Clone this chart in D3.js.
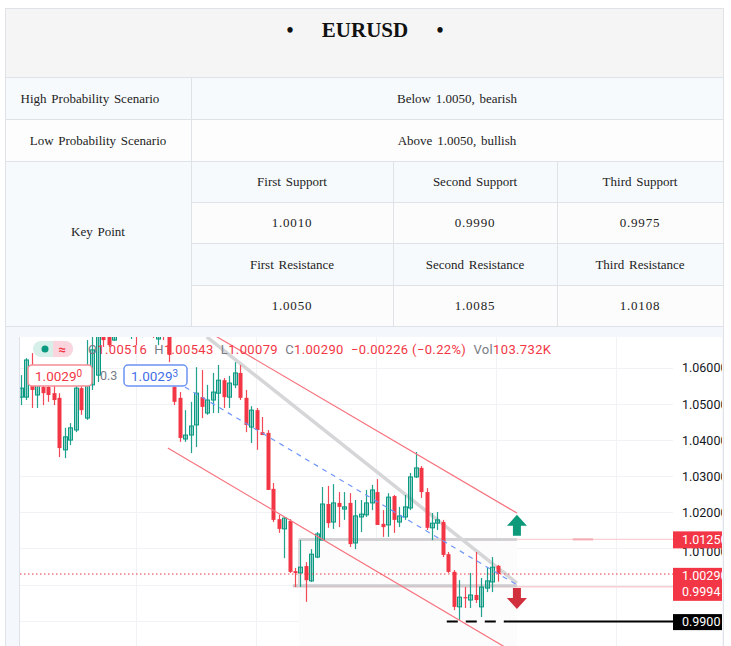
<!DOCTYPE html>
<html><head><meta charset="utf-8">
<script src="https://cdn.jsdelivr.net/npm/d3@7"></script>
<style>html,body{margin:0;padding:0;background:#fff;overflow:hidden}</style>
</head><body><svg id="c" width="731" height="646"></svg>
<script>
// ---------- table data ----------
const titleText = "EURUSD";
const scenarioLabels = ["High Probability Scenario", "Low Probability Scenario"];
const scenarioTexts = ["Below 1.0050, bearish", "Above 1.0050, bullish"];
const keyLabel = "Key Point";
const supportHeaders = ["First Support", "Second Support", "Third Support"];
const supportValues = ["1.0010", "0.9990", "0.9975"];
const resistanceHeaders = ["First Resistance", "Second Resistance", "Third Resistance"];
const resistanceValues = ["1.0050", "1.0085", "1.0108"];

// ---------- chart data (daily candles, index 0..87) ----------
const opens = [1.0519,1.0519,1.0594,1.0525,1.0547,1.0547,1.0530,1.0517,1.0373,1.0400,
1.0428,1.0544,1.0461,1.0553,1.0580,1.0733,1.0719,1.0677,1.0733,1.0770,
1.0710,1.0740,1.0690,1.0730,1.0720,1.0680,1.0730,1.0705,1.0547,1.0517,
1.0403,1.0414,1.0442,1.0519,1.0475,1.0511,1.0530,1.0566,1.0519,1.0553,
1.0586,1.0517,1.0436,1.0483,1.0422,1.0420,1.0265,1.0181,1.0154,1.0176,
1.0037,1.0032,1.0051,1.0010,1.0076,1.0123,1.0223,1.0173,1.0226,1.0209,
1.0226,1.0115,1.0187,1.0193,1.0226,1.0256,1.0168,1.0165,1.0245,1.0173,
1.0187,1.0212,1.0298,1.0323,1.0256,1.0157,1.0170,1.0173,1.0084,1.0035,
0.9938,0.9965,0.9957,0.9971,0.9938,0.9990,1.0007,1.00516];
const highs = [1.0580,1.0627,1.0641,1.0580,1.0566,1.0558,1.0553,1.0530,1.0434,1.0447,
1.0580,1.0553,1.0677,1.0691,1.0733,1.0760,1.0747,1.0747,1.0790,1.0800,
1.0760,1.0770,1.0750,1.0780,1.0740,1.0745,1.0760,1.0720,1.0553,1.0533,
1.0483,1.0506,1.0602,1.0594,1.0553,1.0586,1.0608,1.0572,1.0578,1.0616,
1.0608,1.0539,1.0494,1.0489,1.0464,1.0428,1.0281,1.0193,1.0187,1.0181,
1.0046,1.0123,1.0062,1.0098,1.0145,1.0270,1.0273,1.0278,1.0256,1.0256,
1.0253,1.0234,1.0234,1.0262,1.0276,1.0292,1.0206,1.0253,1.0248,1.0215,
1.0248,1.0309,1.0367,1.0328,1.0267,1.0198,1.0201,1.0179,1.0090,1.0040,
1.0012,0.9993,1.0032,1.0090,1.0018,1.0048,1.0076,1.00543];
const lows = [1.0497,1.0511,1.0489,1.0489,1.0497,1.0506,1.0497,1.0353,1.0350,1.0386,
1.0422,1.0470,1.0456,1.0539,1.0561,1.0658,1.0658,1.0675,1.0700,1.0691,
1.0680,1.0663,1.0685,1.0700,1.0683,1.0663,1.0677,1.0616,1.0497,1.0395,
1.0395,1.0364,1.0381,1.0461,1.0470,1.0475,1.0475,1.0489,1.0489,1.0544,
1.0511,1.0422,1.0392,1.0373,1.0414,1.0262,1.0173,1.0143,1.0073,1.0032,
0.9993,0.9993,0.9952,1.0007,1.0073,1.0123,1.0157,1.0154,1.0159,1.0179,
1.0104,1.0098,1.0145,1.0187,1.0206,1.0165,1.0132,1.0132,1.0143,1.0159,
1.0179,1.0206,1.0295,1.0240,1.0151,1.0123,1.0151,1.0076,1.0032,0.9929,
0.9902,0.9935,0.9935,0.9949,0.9910,0.9979,0.9979,1.00079];
const closes = [1.0544,1.0622,1.0539,1.0553,1.0530,1.0525,1.0511,1.0378,1.0409,1.0434,
1.0544,1.0483,1.0594,1.0650,1.0705,1.0677,1.0663,1.0733,1.0770,1.0710,
1.0740,1.0690,1.0730,1.0720,1.0700,1.0730,1.0700,1.0636,1.0506,1.0406,
1.0414,1.0439,1.0530,1.0492,1.0511,1.0533,1.0566,1.0519,1.0558,1.0586,
1.0517,1.0442,1.0483,1.0428,1.0414,1.0262,1.0179,1.0154,1.0184,1.0035,
1.0032,1.0048,1.0012,1.0084,1.0140,1.0223,1.0170,1.0226,1.0215,1.0215,
1.0112,1.0190,1.0195,1.0226,1.0262,1.0165,1.0159,1.0242,1.0179,1.0190,
1.0215,1.0298,1.0323,1.0256,1.0157,1.0170,1.0179,1.0082,1.0035,0.9938,
0.9965,0.9963,0.9971,0.9957,0.9993,1.0010,1.0048,1.00290];

const priceTicks = [0.99, 1.00, 1.01, 1.02, 1.03, 1.04, 1.05, 1.06];
const axisLabelTicks = [1.01, 1.02, 1.03, 1.04, 1.05, 1.06];
const timeGrid = [21, 42.9, 64.8, 86.7, 108.6];

// drawings: [index, price] endpoints
const upperChannel = [[26.8, 1.0766], [90.5, 1.0198]];
const lowerChannel = [[26.8, 1.0378], [90.5, 0.9807]];
const grayTrend = [[33.9, 1.0686], [90.5, 1.0004]];
const blueTrend = [[29.9, 1.0547], [90.5, 0.9999]];
const boxLeft = 50.7, boxLeftLow = 49.6, drawEnd = 90.5;
const levelHigh = 1.0125, levelLow = 0.9994, levelTarget = 0.9900;
const lastPrice = 1.0029;
const upArrow = {i: 90.5, price: 1.0193};
const downArrow = {i: 90.5, price: 0.9932};

const legendParts = [["O","#787b86"],["1.00516","#f23645"],["  H","#787b86"],["1.00543","#f23645"],
  ["  L","#787b86"],["1.00079","#f23645"],["  C","#787b86"],["1.00290","#f23645"],
  ["  −0.00226 (−0.22%)","#f23645"],["  Vol","#787b86"],["103.732K","#f23645"]];

// ---------- drawing ----------
const svg = d3.select("#c");
const serif = "'Liberation Serif','Times New Roman',serif";
const sans = "Roboto,'Liberation Sans',Arial,sans-serif";
const border = "#dfe2e7";

// Table backgrounds
const tX0 = 5, tX1 = 723, col1 = 191, colB = 393, colC = 557;
const rows = [8, 77, 119, 161, 202, 243, 285, 326, 646];
svg.append("rect").attr("x",tX0).attr("y",rows[0]).attr("width",tX1-tX0).attr("height",rows[1]-rows[0]).attr("fill","#f5f5f5");
svg.append("rect").attr("x",tX0).attr("y",rows[1]).attr("width",tX1-tX0).attr("height",rows[2]-rows[1]).attr("fill","#f7fafd");
svg.append("rect").attr("x",tX0).attr("y",rows[2]).attr("width",tX1-tX0).attr("height",rows[3]-rows[2]).attr("fill","#fdfdfd");
svg.append("rect").attr("x",tX0).attr("y",rows[3]).attr("width",col1-tX0).attr("height",rows[7]-rows[3]).attr("fill","#f7fafd");
[3,5].forEach(r => svg.append("rect").attr("x",col1).attr("y",rows[r]).attr("width",tX1-col1).attr("height",rows[r+1]-rows[r]).attr("fill","#f7fafd"));
[4,6].forEach(r => svg.append("rect").attr("x",col1).attr("y",rows[r]).attr("width",tX1-col1).attr("height",rows[r+1]-rows[r]).attr("fill","#fcfcfc"));
svg.append("rect").attr("x",tX0).attr("y",rows[7]).attr("width",tX1-tX0).attr("height",rows[8]-rows[7]).attr("fill","#f4f7fc");

// Table lines
const lines = svg.append("g").attr("stroke",border).attr("stroke-width",1).attr("shape-rendering","crispEdges");
rows.slice(0,8).forEach((y,k) => {
  let x0 = tX0;
  if (k === 4 || k === 5 || k === 6) x0 = col1;
  lines.append("line").attr("x1",x0).attr("x2",tX1).attr("y1",y+0.5).attr("y2",y+0.5);
});
lines.append("line").attr("x1",tX0+0.5).attr("x2",tX0+0.5).attr("y1",rows[0]).attr("y2",646);
lines.append("line").attr("x1",tX1+0.5).attr("x2",tX1+0.5).attr("y1",rows[0]).attr("y2",646);
lines.append("line").attr("x1",col1+0.5).attr("x2",col1+0.5).attr("y1",rows[1]).attr("y2",rows[7]);
[colB, colC].forEach(x => lines.append("line").attr("x1",x+0.5).attr("x2",x+0.5).attr("y1",rows[3]).attr("y2",rows[7]));

// Table texts
const tt = (x,y,s,opt={}) => svg.append("text").attr("x",x).attr("y",y).attr("text-anchor","middle")
  .attr("font-family",serif).attr("font-size",opt.size||13).attr("font-weight",opt.bold?"bold":"normal")
  .attr("fill",opt.fill||"#222").attr("letter-spacing",opt.ls||0).attr("word-spacing",opt.ws||1.5).text(s);
tt(290, 37, "•", {size:20, bold:true, fill:"#111"});
tt(365, 37, titleText, {size:21, bold:true, fill:"#111"});
tt(440, 37, "•", {size:20, bold:true, fill:"#111"});
const scenX = [90, 98];
scenarioLabels.forEach((s,k) => tt(scenX[k], (rows[1+k]+rows[2+k])/2+4.5, s));
scenarioTexts.forEach((s,k) => tt((col1+tX1)/2, (rows[1+k]+rows[2+k])/2+4.5, s));
tt((tX0+col1)/2, 235.5, keyLabel);
const colCenters = [(col1+colB)/2, (colB+colC)/2, (colC+tX1)/2];
const cellY = r => (rows[r]+rows[r+1])/2+4.5;
supportHeaders.forEach((s,k) => tt(colCenters[k], cellY(3), s));
supportValues.forEach((s,k) => tt(colCenters[k], cellY(4), s, {ls:0.8}));
resistanceHeaders.forEach((s,k) => tt(colCenters[k], cellY(5), s));
resistanceValues.forEach((s,k) => tt(colCenters[k], cellY(6), s, {ls:0.8}));

// ---------- Chart ----------
const cL = 20, cR = 722, cT = 337, cB = 646, plotR = 673;
svg.append("defs").append("clipPath").attr("id","chartClip").append("rect")
  .attr("x",cL).attr("y",cT).attr("width",cR-cL).attr("height",cB-cT);
svg.append("rect").attr("x",cL).attr("y",cT).attr("width",cR-cL).attr("height",cB-cT).attr("fill","#fff");
svg.append("line").attr("x1",cL-0.5).attr("x2",cL-0.5).attr("y1",cT).attr("y2",cB).attr("stroke","#dde2ea");
const chart = svg.append("g").attr("clip-path","url(#chartClip)");

const x = d3.scaleLinear().domain([0, 119]).range([21, 673.1]);
const y = d3.scaleLinear().domain([0.99, 1.06]).range([620.6, 367.9]);

// grid
const grid = chart.append("g").attr("shape-rendering","crispEdges");
grid.selectAll(".hg").data(priceTicks).join("line")
  .attr("x1",cL).attr("x2",plotR).attr("y1",d=>Math.round(y(d))+0.5).attr("y2",d=>Math.round(y(d))+0.5)
  .attr("stroke","#f0f2f6");
grid.selectAll(".vg").data(timeGrid).join("line")
  .attr("x1",d=>Math.round(x(d))+0.5).attr("x2",d=>Math.round(x(d))+0.5).attr("y1",cT).attr("y2",cB)
  .attr("stroke","#f0f2f6");

// shaded zone (very faint)
chart.append("rect").attr("x",x(boxLeft)).attr("y",y(levelHigh)).attr("width",x(drawEnd)-x(boxLeft))
  .attr("height",cB-y(levelHigh)).attr("fill","#fcfcfc");

const line = d3.line().x(d=>x(d[0])).y(d=>y(d[1]));

// levels
chart.append("line").attr("x1",x(boxLeft)).attr("x2",plotR).attr("y1",y(levelHigh)).attr("y2",y(levelHigh)).attr("stroke","#f9d0d4").attr("stroke-width",1.2);
chart.append("line").attr("x1",x(100.7)).attr("x2",x(104.4)).attr("y1",y(levelHigh)).attr("y2",y(levelHigh)).attr("stroke","#f5aab1").attr("stroke-width",2);
chart.append("line").attr("x1",x(boxLeftLow)).attr("x2",plotR).attr("y1",y(levelLow)).attr("y2",y(levelLow)).attr("stroke","#f9cdd1").attr("stroke-width",1.5);
chart.append("line").attr("x1",x(boxLeft)).attr("x2",x(drawEnd)).attr("y1",y(levelHigh)).attr("y2",y(levelHigh)).attr("stroke","#cfcfd2").attr("stroke-width",3).attr("opacity",0.9);
chart.append("line").attr("x1",x(boxLeftLow)).attr("x2",x(drawEnd)).attr("y1",y(levelLow)-1).attr("y2",y(levelLow)-1).attr("stroke","#c8c8cb").attr("stroke-width",3).attr("opacity",0.9);
chart.append("line").attr("x1",x(boxLeft)).attr("x2",x(boxLeft)).attr("y1",y(levelHigh)).attr("y2",y(levelLow)).attr("stroke","#d9d9dc").attr("stroke-width",1.5);

// gray thick trend
chart.append("path").attr("d",line(grayTrend)).attr("fill","none").attr("stroke","#d6d6d8").attr("stroke-width",3.5);

// candles
const candles = opens.map((o,i) => ({i, o, h: highs[i], l: lows[i], c: closes[i]}));
const up = "#089981", down = "#f23645";
const cg = chart.append("g");
cg.selectAll("line.w").data(candles).join("line")
  .attr("x1",d=>Math.round(x(d.i))+0.5).attr("x2",d=>Math.round(x(d.i))+0.5)
  .attr("y1",d=>y(d.h)).attr("y2",d=>y(d.l))
  .attr("stroke",d=>d.c>=d.o?up:down).attr("stroke-width",1.2).attr("opacity",0.9);
cg.selectAll("rect.b").data(candles).join("rect")
  .attr("x",d=>Math.round(x(d.i))-1.5).attr("width",4)
  .attr("y",d=>y(Math.max(d.o,d.c))).attr("height",d=>Math.max(1.2, Math.abs(y(d.o)-y(d.c))))
  .attr("fill",d=>d.c>=d.o?"rgba(8,153,129,0.35)":down)
  .attr("stroke",d=>d.c>=d.o?up:"none").attr("stroke-width",1);

// channels
[upperChannel, lowerChannel].forEach(seg => chart.append("path").attr("d",line(seg)).attr("fill","none").attr("stroke","#f7727e").attr("stroke-width",1.2));
chart.append("path").attr("d",line(blueTrend)).attr("fill","none").attr("stroke","#6f95f7").attr("stroke-width",1.2).attr("stroke-dasharray","5,5");

// current price dotted line
chart.append("line").attr("x1",cL).attr("x2",plotR).attr("y1",y(lastPrice)).attr("y2",y(lastPrice))
  .attr("stroke","#f23645").attr("stroke-width",1).attr("stroke-dasharray","1.5,2.5");

// target black level
chart.append("line").attr("x1",x(77.7)).attr("x2",x(88.7)).attr("y1",y(levelTarget)+1).attr("y2",y(levelTarget)+1)
  .attr("stroke","#000").attr("stroke-width",2).attr("stroke-dasharray","11,8");
chart.append("line").attr("x1",x(88.7)).attr("x2",plotR).attr("y1",y(levelTarget)+1).attr("y2",y(levelTarget)+1)
  .attr("stroke","#000").attr("stroke-width",2);

// arrows
const ax = x(upArrow.i), ay = y(upArrow.price);
chart.append("path").attr("d",`M${ax},${ay} L${ax+10},${ay+11} L${ax+4},${ay+11} L${ax+4},${ay+21} L${ax-4},${ay+21} L${ax-4},${ay+11} L${ax-10},${ay+11} Z`).attr("fill","#0d9a7b");
const bx = x(downArrow.i), by = y(downArrow.price);
chart.append("path").attr("d",`M${bx},${by} L${bx+10},${by-11} L${bx+4},${by-11} L${bx+4},${by-21} L${bx-4},${by-21} L${bx-4},${by-11} L${bx-10},${by-11} Z`).attr("fill","#d1303d");

// price axis (labels hidden behind price boxes in the reference are omitted)
const axis = d3.axisRight(y).tickValues(axisLabelTicks).tickFormat(d3.format(".5f")).tickSize(0).tickPadding(9);
const ag = chart.append("g").attr("transform",`translate(${plotR},0)`).call(axis);
ag.select(".domain").remove();
ag.selectAll("text").attr("font-family",sans).attr("font-size",12.5).attr("fill","#131722");
ag.selectAll(".tick").filter(d => d === 1.01).select("text").attr("dy","0.55em");

// price labels
function priceBox(yc, h, fill, labels){
  chart.append("rect").attr("x",plotR).attr("y",yc-h/2).attr("width",cR-plotR+4).attr("height",h).attr("fill",fill);
  labels.forEach(l => chart.append("text").attr("x",plotR+9).attr("y",l[0]).attr("dy","0.35em")
    .attr("font-family",sans).attr("font-size",12.5).attr("fill","#fff").text(l[1]));
}
priceBox(y(levelHigh)+0.5, 17, "#f23645", [[y(levelHigh)+0.5, d3.format(".5f")(levelHigh)]]);
priceBox((y(lastPrice)+y(levelLow))/2+4, 33, "#f23645", [[y(lastPrice)+2, d3.format(".5f")(lastPrice)],[y(levelLow)+5, d3.format(".4f")(levelLow)]]);
priceBox(y(levelTarget)+1.5, 16, "#000", [[y(levelTarget)+1.5, d3.format(".4f")(levelTarget)]]);

// legend
const pill = chart.append("g");
pill.append("rect").attr("x",33).attr("y",341).attr("width",40).attr("height",16).attr("rx",8).attr("fill","#d6efe9");
pill.append("path").attr("d","M53,341 H65 A8,8 0 0 1 65,357 H53 Z").attr("fill","#fbd5dd");
pill.append("circle").attr("cx",45).attr("cy",349).attr("r",3.5).attr("fill","#089981");
pill.append("text").attr("x",62).attr("y",353.5).attr("text-anchor","middle").attr("font-family",sans).attr("font-size",13).attr("font-weight","bold").attr("fill","#f23645").text("≈");
const lg = chart.append("text").attr("x",88).attr("y",354).attr("font-family",sans).attr("font-size",13)
  .attr("textLength",463).attr("lengthAdjust","spacing").attr("xml:space","preserve");
legendParts.forEach(p => lg.append("tspan").attr("fill",p[1]).text(p[0]));

function valueBox(x0, w, stroke, fill, main, sup){
  chart.append("rect").attr("x",x0).attr("y",365).attr("width",w).attr("height",21).attr("rx",4)
    .attr("fill","#fff").attr("stroke",stroke).attr("stroke-width",1.5);
  const t = chart.append("text").attr("x",x0+7).attr("y",380.5).attr("font-family",sans).attr("font-size",13.5).attr("fill",fill);
  t.append("tspan").text(main);
  t.append("tspan").attr("font-size",10).attr("dy",-4).text(sup);
}
valueBox(28, 64, "#f38d96", "#f23645", "1.0029", "0");
chart.append("text").attr("x",100).attr("y",380).attr("font-family",sans).attr("font-size",12.5).attr("fill","#787b86").text("0.3");
valueBox(124, 63, "#6c93f3", "#3f6fe6", "1.0029", "3");
</script></body></html>
